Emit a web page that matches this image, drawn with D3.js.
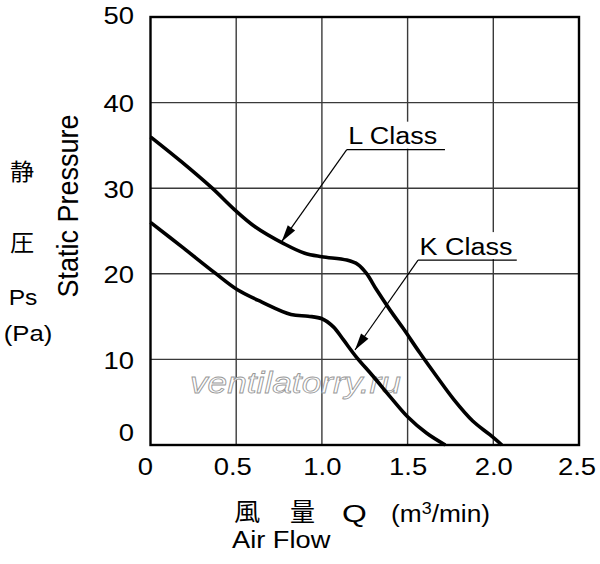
<!DOCTYPE html>
<html><head><meta charset="utf-8">
<script src="https://cdn.jsdelivr.net/npm/d3@7"></script>
<style>
body{margin:0;background:#fff;}
svg{display:block;}
</style></head>
<body>
<svg id="c" width="600" height="564"></svg>
<script>
// ---- data ----
const xTicks = [0, 0.5, 1.0, 1.5, 2.0, 2.5];
const xTickLabels = ["0", "0.5", "1.0", "1.5", "2.0", "2.5"];
const yTicks = [0, 10, 20, 30, 40, 50];
const yTickLabels = ["0", "10", "20", "30", "40", "50"];

const lClassQ = [0, 0.18, 0.36, 0.49, 0.61, 0.78, 0.90, 1.0, 1.145, 1.21, 1.26, 1.32, 1.40, 1.475, 1.57, 1.67, 1.77, 1.88, 1.98, 2.05];
const lClassP = [36, 33.1, 30, 27.5, 25.5, 23.5, 22.4, 22.0, 21.6, 21.1, 20.05, 18.1, 15.7, 13.6, 10.8, 8.0, 5.3, 2.8, 1.2, 0];
const kClassQ = [0, 0.18, 0.376, 0.51, 0.65, 0.82, 0.92, 1.0, 1.067, 1.125, 1.20, 1.30, 1.40, 1.50, 1.61, 1.72];
const kClassP = [26, 23.2, 20.1, 18.1, 16.7, 15.25, 15.05, 14.75, 13.8, 12.3, 10.3, 8.0, 5.6, 3.3, 1.4, 0];

const seriesNames = ["L Class", "K Class"];
// annotation anchors in data units: [labelQ, labelP, underlineEndQ, arrowTipQ, arrowTipP]
const lAnno = [1.145, 34.5, 1.718, 0.765, 23.75];
const kAnno = [1.561, 21.6, 2.137, 1.193, 11.1];

const yTitleZh = ["静", "圧"];
const yTitleEn = "Static Pressure";
const yUnit = ["Ps", "(Pa)"];
const xTitleZh = ["風", "量", "Q"];
const xUnitBase = "(m", xUnitSup = "3", xUnitRest = "/min)";
const xTitleEn = "Air Flow";
const watermark = "ventilatorry.ru";

// ---- drawing ----
const svg = d3.select("#c");
const FONT = "'Liberation Sans', Arial, Helvetica, sans-serif";
const CJK = "'Noto Sans CJK JP', 'Noto Sans CJK SC', sans-serif";
const SX = 1.12; // horizontal stretch of the lettering

const x = d3.scaleLinear().domain([0, 2.5]).range([150.5, 579]);
const y = d3.scaleLinear().domain([0, 50]).range([445, 17]);

function label(str, tx, ty, size, opts = {}) {
  const t = svg.append("text").text(str)
    .attr("transform", `translate(${tx},${ty}) scale(${opts.sx || SX},1)` + (opts.rot ? ` rotate(${opts.rot})` : ""))
    .attr("font-family", opts.family || FONT).attr("font-size", size).attr("fill", "#000")
    .attr("text-anchor", opts.anchor || "start");
  return t;
}

// grid
const grid = svg.append("g");
grid.selectAll("line.v").data(xTicks.slice(1, -1)).join("line")
  .attr("x1", d => x(d)).attr("x2", d => x(d)).attr("y1", y(50)).attr("y2", y(0))
  .attr("stroke", "#3a3a3a").attr("stroke-width", 1.4);
grid.selectAll("line.h").data(yTicks.slice(1, -1)).join("line")
  .attr("x1", x(0)).attr("x2", x(2.5)).attr("y1", d => y(d)).attr("y2", d => y(d))
  .attr("stroke", "#3a3a3a").attr("stroke-width", 1.4);

// watermark
svg.append("text").text(watermark)
  .attr("x", x(0.23)).attr("y", y(6.1))
  .attr("font-family", FONT).attr("font-style", "italic")
  .attr("font-size", 29).attr("fill", "#fff").attr("stroke", "#999").attr("stroke-width", 0.8)
  .attr("textLength", 211).attr("lengthAdjust", "spacingAndGlyphs");

// curves
const line = d3.line().x(d => x(d[0])).y(d => y(d[1])).curve(d3.curveCatmullRom.alpha(0.5));
const lData = lClassQ.map((q, i) => [q, lClassP[i]]);
const kData = kClassQ.map((q, i) => [q, kClassP[i]]);
[lData, kData].forEach(d => {
  svg.append("path").datum(d).attr("d", line)
    .attr("fill", "none").attr("stroke", "#000").attr("stroke-width", 3.6)
    .attr("stroke-linejoin", "round").attr("stroke-linecap", "butt");
});

// frame
svg.append("rect").attr("x", x(0)).attr("y", y(50))
  .attr("width", x(2.5) - x(0)).attr("height", y(0) - y(50))
  .attr("fill", "none").attr("stroke", "#000").attr("stroke-width", 2.4);

// annotations
function annotate(name, a) {
  const lx = x(a[0]), ly = y(a[1]), ex = x(a[2]);
  const tx = x(a[3]), ty = y(a[4]);
  svg.append("rect").attr("x", lx).attr("y", ly - 28).attr("width", ex - lx).attr("height", 27)
    .attr("fill", "#fff");
  label(name, lx + 1.5, ly - 5.5, 24.5, { sx: 1.1 });
  svg.append("line").attr("x1", lx).attr("x2", ex).attr("y1", ly).attr("y2", ly)
    .attr("stroke", "#000").attr("stroke-width", 1.2);
  svg.append("line").attr("x1", lx).attr("y1", ly).attr("x2", tx).attr("y2", ty)
    .attr("stroke", "#000").attr("stroke-width", 1.2);
  const ang = Math.atan2(ty - ly, tx - lx);
  const L = 17, W = 4.5;
  const bx = tx - L * Math.cos(ang), by = ty - L * Math.sin(ang);
  const px = -Math.sin(ang) * W, py = Math.cos(ang) * W;
  svg.append("path").attr("d", `M${tx},${ty}L${bx + px},${by + py}L${bx - px},${by - py}Z`)
    .attr("fill", "#000");
}
annotate(seriesNames[0], lAnno);
annotate(seriesNames[1], kAnno);

// axes (labels only)
const yAxis = svg.append("g").attr("transform", `translate(${x(0)},0)`)
  .call(d3.axisLeft(y).tickValues(yTicks).tickFormat((d, i) => yTickLabels[i]).tickSize(0));
yAxis.select(".domain").remove();
yAxis.selectAll(".tick line").remove();
yAxis.selectAll("text")
  .attr("x", 0).attr("dy", 0)
  .attr("transform", d => `translate(-16.5,${d === 0 ? -4.5 : (d === 50 ? 6 : 8.8)}) scale(${SX},1)`)
  .attr("font-family", FONT).attr("font-size", 24.5).attr("fill", "#000");

const xAxis = svg.append("g").attr("transform", `translate(0,${y(0)})`)
  .call(d3.axisBottom(x).tickValues(xTicks).tickFormat((d, i) => xTickLabels[i]).tickSize(0));
xAxis.select(".domain").remove();
xAxis.selectAll(".tick line").remove();
xAxis.selectAll("text")
  .attr("y", 0).attr("dy", 0)
  .attr("transform", d => `translate(${d === 0 ? -5.5 : d === 0.5 ? -4 : d === 2.5 ? -2.5 : 0},30) scale(${SX},1)`)
  .attr("font-family", FONT).attr("font-size", 24.5).attr("fill", "#000");

// y titles
label(yTitleZh[0], 22, 180, 23, { family: CJK, anchor: "middle", sx: 1.05 });
label(yTitleZh[1], 22, 251, 23, { family: CJK, anchor: "middle", sx: 1.05 });
label(yUnit[0], 23, 305, 22, { anchor: "middle" });
label(yUnit[1], 28, 341, 23, { anchor: "middle" });
label(yTitleEn, 78, 206, 27, { anchor: "middle", rot: -90, sx: 1.08 });

// x titles
label(xTitleZh[0], 234, 521, 25, { family: CJK, sx: 1.05 });
label(xTitleZh[1], 290, 521, 25, { family: CJK, sx: 1.0 });
label(xTitleZh[2], 342, 522, 24.5, { sx: 1.3 });
const unit = label("", 391, 522, 23.5);
unit.append("tspan").text(xUnitBase);
unit.append("tspan").text(xUnitSup).attr("font-size", 16).attr("dy", -8.5);
unit.append("tspan").text(xUnitRest).attr("dy", 8.5);
label(xTitleEn, 232, 548, 23.5, { sx: 1.16 });
</script>
</body></html>
